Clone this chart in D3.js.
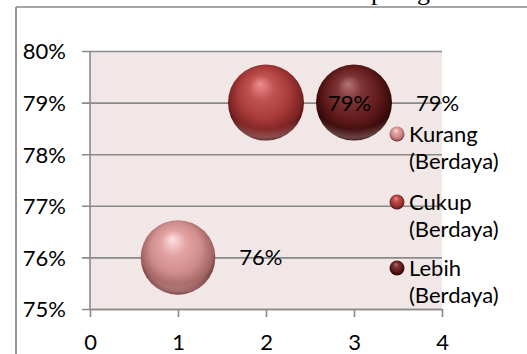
<!DOCTYPE html>
<html>
<head>
<meta charset="utf-8">
<script src="https://cdn.jsdelivr.net/npm/d3@7"></script>
<style>
  html, body { margin: 0; padding: 0; background: #ffffff; }
  svg { display: block; }
  text { font-family: Lato, "Liberation Sans", sans-serif; fill: #000; }
</style>
</head>
<body>
<svg id="chart" width="527" height="354"></svg>
<script>
// ---- data ----
const categories = ["Kurang (Berdaya)", "Cukup (Berdaya)", "Lebih (Berdaya)"];
const xValues = [1, 2, 3];
const yValues = [0.76, 0.79, 0.79];
const bubbleSizes = [0.76, 0.79, 0.79];
const xTicks = [0, 1, 2, 3, 4];
const yTicks = [0.75, 0.76, 0.77, 0.78, 0.79, 0.80];
const titleFragments = ["p", "g"];

// ---- styles (kept apart from the data) ----
const palettes = [
  { hi: "#fde2e2", light: "#e4a4a4", main: "#cf8c8c", dark: "#a06262", rim: "#5a2424" },
  { hi: "#f08e8e", light: "#c05252", main: "#a83a3a", dark: "#7a2222", rim: "#3e0c0c" },
  { hi: "#b47474", light: "#7e3434", main: "#641c1c", dark: "#3c0c0c", rim: "#1e0404" }
];

const svg = d3.select("#chart");
const W = 527, H = 354;
const plot = { left: 90, right: 442, top: 51, bottom: 309 };

const x = d3.scaleLinear().domain([0, 4]).range([plot.left, plot.right]);
const y = d3.scaleLinear().domain([0.75, 0.80]).range([plot.bottom, plot.top]);
const r = d3.scaleSqrt().domain([0, d3.max(bubbleSizes)]).range([0, 38]);

// gradients
const defs = svg.append("defs");
palettes.forEach((p, i) => {
  const g = defs.append("radialGradient").attr("id", "ball" + i)
    .attr("cx", "0.5").attr("cy", "0.45").attr("r", "0.55")
    .attr("fx", "0.42").attr("fy", "0.25");
  g.append("stop").attr("offset", "0").attr("stop-color", p.hi);
  g.append("stop").attr("offset", "0.3").attr("stop-color", p.light);
  g.append("stop").attr("offset", "0.62").attr("stop-color", p.main);
  g.append("stop").attr("offset", "0.88").attr("stop-color", p.dark);
  g.append("stop").attr("offset", "1").attr("stop-color", p.rim);
});
const glow = defs.append("radialGradient").attr("id", "glow")
  .attr("cx", "0.5").attr("cy", "0.15").attr("r", "0.9");
glow.append("stop").attr("offset", "0").attr("stop-color", "#ffd0d0").attr("stop-opacity", 0);
glow.append("stop").attr("offset", "0.78").attr("stop-color", "#ffd0d0").attr("stop-opacity", 0);
glow.append("stop").attr("offset", "0.9").attr("stop-color", "#ffd0d0").attr("stop-opacity", 0.3);
glow.append("stop").attr("offset", "1").attr("stop-color", "#ffd0d0").attr("stop-opacity", 0);

// page fragments: cut-off title text and frame
svg.append("text")
  .attr("y", 0)
  .style("font-family", "'Liberation Serif', 'DejaVu Serif', serif")
  .style("font-size", "26px")
  .selectAll("tspan").data(titleFragments).join("tspan")
  .attr("x", (d, i) => i === 0 ? 371 : 417)
  .text(d => d);

svg.append("line").attr("x1", 16).attr("x2", W).attr("y1", 7).attr("y2", 7)
  .attr("stroke", "#8a8a8a").attr("stroke-width", 1.5);
svg.append("line").attr("x1", 16).attr("x2", 16).attr("y1", 7).attr("y2", H)
  .attr("stroke", "#8a8a8a").attr("stroke-width", 1.8);

// plot background
svg.append("rect")
  .attr("x", plot.left).attr("y", plot.top)
  .attr("width", plot.right - plot.left).attr("height", plot.bottom - plot.top)
  .attr("fill", "#f2e7e7");

// y axis with gridlines
const yAxis = svg.append("g")
  .attr("transform", `translate(${plot.left},0)`)
  .call(d3.axisLeft(y).tickValues(yTicks).tickFormat(d3.format(".0%"))
    .tickSize(-(plot.right - plot.left)).tickPadding(24));
yAxis.select(".domain").remove();
yAxis.selectAll(".tick line").attr("x1", -8)
  .attr("x2", plot.right - plot.left)
  .attr("stroke", "#8a8a8a").attr("stroke-width", 1.6);
yAxis.selectAll("text").style("font-size", "22px").attr("dy", "0.36em");
svg.append("line").attr("x1", plot.left).attr("x2", plot.left)
  .attr("y1", plot.top).attr("y2", plot.bottom)
  .attr("stroke", "#8a8a8a").attr("stroke-width", 1.6);

// x axis
const xAxis = svg.append("g")
  .attr("transform", `translate(0,${plot.bottom})`)
  .call(d3.axisBottom(x).tickValues(xTicks).tickFormat(d3.format("d"))
    .tickSize(8).tickSizeOuter(0).tickPadding(17));
xAxis.select(".domain").attr("stroke", "#8a8a8a").attr("stroke-width", 1.6);
xAxis.selectAll(".tick line").attr("stroke", "#8a8a8a").attr("stroke-width", 1.6);
xAxis.selectAll("text").style("font-size", "22px");

// bubbles
const data = categories.map((c, i) => ({ c, i, x: xValues[i], y: yValues[i], s: bubbleSizes[i] }));
const bub = svg.append("g").selectAll("g").data(data).join("g");
bub.append("circle")
  .attr("cx", d => x(d.x)).attr("cy", d => y(d.y)).attr("r", d => r(d.s))
  .attr("fill", d => `url(#ball${d.i})`);
bub.append("circle")
  .attr("cx", d => x(d.x)).attr("cy", d => y(d.y)).attr("r", d => r(d.s))
  .attr("fill", "url(#glow)");

// data labels (right of each bubble)
svg.append("g").selectAll("text").data(data).join("text")
  .attr("x", d => x(d.x) + r(d.s) + 24)
  .attr("y", d => y(d.y))
  .attr("dy", "0.36em")
  .style("font-size", "22px")
  .text(d => d3.format(".0%")(d.y));

// legend
const legendY = [134, 202, 268];
const leg = svg.append("g").selectAll("g").data(data).join("g")
  .attr("transform", (d, i) => `translate(397,${legendY[i]})`);
leg.append("circle").attr("r", 7.5).attr("fill", d => `url(#ball${d.i})`);
leg.append("text")
  .attr("x", 12)
  .style("font-size", "22px")
  .selectAll("tspan").data(d => d.c.split(" ")).join("tspan")
  .attr("x", 12)
  .attr("dy", (t, j) => j === 0 ? "0.36em" : "27px")
  .text(t => t);
</script>
</body>
</html>
